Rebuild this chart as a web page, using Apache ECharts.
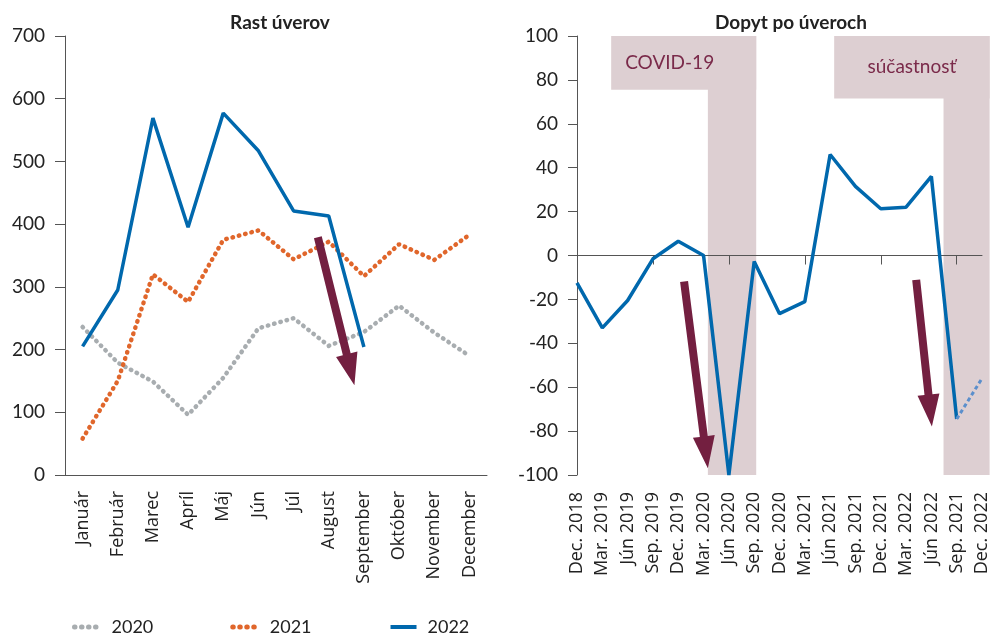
<!DOCTYPE html>
<html>
<head>
<meta charset="utf-8">
<script src="https://cdn.jsdelivr.net/npm/echarts@6/dist/echarts.min.js"></script>
<style>
html, body { margin: 0; padding: 0; background: #fff; }
#main { width: 991px; height: 633px; }
</style>
</head>
<body>
<div id="main"></div>
<script>
"use strict";

// Rast úverov (mesačne)
var months = ['Január', 'Február', 'Marec', 'Apríl', 'Máj', 'Jún', 'Júl', 'August', 'September', 'Október', 'November', 'December'];
var credit2020 = [236, 179, 149, 96, 155, 234, 250, 206, 228, 270, 227, 190];
var credit2021 = [58, 150, 320, 276, 375, 390, 344, 372, 317, 368, 343, 383];
var credit2022 = [205, 295, 569, 395, 577, 517, 421, 413, 204, null, null, null];

// Dopyt po úveroch (štvrťročne)
var quarters = ['Dec. 2018', 'Mar. 2019', 'Jún 2019', 'Sep. 2019', 'Dec. 2019', 'Mar. 2020', 'Jún 2020', 'Sep. 2020', 'Dec. 2020', 'Mar. 2021', 'Jún 2021', 'Sep. 2021', 'Dec. 2021', 'Mar. 2022', 'Jún 2022', 'Sep. 2021', 'Dec. 2022'];
var demand = [-12.5, -33, -20.5, -1.5, 6.5, 0, -100, -2.7, -26.5, -21, 46, 31.5, 21.3, 22, 36, -74.5, null];
var demandOutlook = [null, null, null, null, null, null, null, null, null, null, null, null, null, null, null, -74.5, -56];

// annotations, in data units: [x0, y0, x1, y1]
var leftArrows = [[6.69, 379, 7.73, 143]];
var rightArrows = [[4.23, -11.8, 5.17, -96.9], [13.4, -11.1, 14.02, -77.9]];
var bandStrips = [[5.17, 100, 7.08, -100], [14.48, 100, 16.3, -100]];
var bandBoxes = [[1.35, 100, 7.08, 75.5], [10.16, 100, 16.3, 71.5]];
var bandLabels = ['COVID-19', 'súčastnosť'];

var blue = '#0068ad';
var orange = '#e0662b';
var gray = '#a8adb0';
var maroon = '#731f40';
var bandColor = '#ddcfd2';
var axisColor = '#555';
var textColor = '#222';

var myChart = echarts.init(document.getElementById('main'));

function renderArrow(params, api) {
	var p0 = api.coord([api.value(0), api.value(1)]);
	var p1 = api.coord([api.value(2), api.value(3)]);
	var dx = p1[0] - p0[0], dy = p1[1] - p0[1];
	var len = Math.sqrt(dx * dx + dy * dy);
	var ux = dx / len, uy = dy / len;
	var nx = -uy, ny = ux;
	var shaft = 4, head = 11, headLen = 32;
	var bx = p1[0] - ux * headLen, by = p1[1] - uy * headLen;
	return {
		type: 'polygon',
		shape: {
			points: [
				[p0[0] + nx * shaft, p0[1] + ny * shaft],
				[bx + nx * shaft, by + ny * shaft],
				[bx + nx * head, by + ny * head],
				p1,
				[bx - nx * head, by - ny * head],
				[bx - nx * shaft, by - ny * shaft],
				[p0[0] - nx * shaft, p0[1] - ny * shaft]
			]
		},
		style: { fill: maroon }
	};
}

function renderStrip(params, api) {
	var a = api.coord([api.value(0), api.value(1)]);
	var b = api.coord([api.value(2), api.value(3)]);
	return {
		type: 'rect',
		shape: { x: a[0], y: a[1], width: b[0] - a[0], height: b[1] - a[1] },
		style: { fill: bandColor }
	};
}

function renderBox(params, api) {
	var a = api.coord([api.value(0), api.value(1)]);
	var b = api.coord([api.value(2), api.value(3)]);
	var first = params.dataIndex === 0;
	return {
		type: 'rect',
		shape: { x: a[0], y: a[1], width: b[0] - a[0], height: b[1] - a[1] },
		style: { fill: bandColor },
		textContent: {
			style: {
				text: bandLabels[params.dataIndex],
				fill: '#7a2a4a',
				font: '19px Lato'
			}
		},
		textConfig: { position: first ? 'insideLeft' : 'inside', distance: 14 }
	};
}

var dotted = [0.5, 6];

var option = {
	animation: false,
	textStyle: { fontFamily: 'Lato' },
	title: [
		{ text: 'Rast úverov', left: 275, top: 8, textAlign: 'center',
			textStyle: { fontFamily: 'Lato', fontWeight: 'bold', fontSize: 19, color: textColor } },
		{ text: 'Dopyt po úveroch', left: 786, top: 8, textAlign: 'center',
			textStyle: { fontFamily: 'Lato', fontWeight: 'bold', fontSize: 19, color: textColor } }
	],
	legend: {
		data: [
			{ name: '2020', lineStyle: { width: 5, type: [0.5, 6.5], cap: 'round' } },
			{ name: '2021', lineStyle: { width: 5, type: [0.5, 6.5], cap: 'round' } },
			{ name: '2022', lineStyle: { width: 4 } }
		],
		left: 67,
		top: 613,
		itemWidth: 26,
		itemHeight: 5,
		itemGap: 77,
		itemStyle: { opacity: 0 },
		textStyle: { fontFamily: 'Lato', fontSize: 18, color: textColor, padding: [0, 0, 0, 6] }
	},
	grid: [
		{ left: 65, right: 504, top: 36, bottom: 158 },
		{ left: 577, right: 7, top: 36, bottom: 158 }
	],
	xAxis: [
		{
			type: 'category', gridIndex: 0, data: months, boundaryGap: true,
			axisLine: { lineStyle: { color: axisColor } },
			axisTick: { length: 10, lineStyle: { color: axisColor } },
			axisLabel: { rotate: 90, margin: 16, fontFamily: 'Open Sans', fontSize: 18, color: textColor }
		},
		{ type: 'value', gridIndex: 0, min: -0.5, max: 11.5, show: false },
		{
			type: 'category', gridIndex: 1, data: quarters, boundaryGap: false, z: 4,
			axisLine: { onZero: true, lineStyle: { color: axisColor } },
			axisTick: { length: 9, lineStyle: { color: axisColor } },
			axisLabel: { show: false }
		},
		{
			type: 'category', gridIndex: 1, data: quarters, boundaryGap: false, position: 'bottom',
			axisLine: { show: false, onZero: false },
			axisTick: { show: false },
			axisLabel: { rotate: 90, margin: 17, fontFamily: 'Open Sans', fontSize: 18, color: textColor }
		},
		{ type: 'value', gridIndex: 1, min: 0, max: 16, show: false }
	],
	yAxis: [
		{
			type: 'value', gridIndex: 0, min: 0, max: 700, interval: 100,
			splitLine: { show: false },
			axisLine: { show: true, onZero: false, lineStyle: { color: axisColor } },
			axisTick: { show: true, length: 10, lineStyle: { color: axisColor } },
			axisLabel: { margin: 20, fontFamily: 'Lato', fontSize: 19, color: textColor }
		},
		{
			type: 'value', gridIndex: 1, min: -100, max: 100, interval: 20, z: 4,
			splitLine: { show: false },
			axisLine: { show: true, onZero: false, lineStyle: { color: axisColor } },
			axisTick: { show: true, length: 9, lineStyle: { color: axisColor } },
			axisLabel: { margin: 19, fontFamily: 'Lato', fontSize: 19, color: textColor }
		}
	],
	series: [
		{
			name: 'bands', type: 'custom', xAxisIndex: 4, yAxisIndex: 1, z: 1, silent: true,
			renderItem: renderStrip, data: bandStrips, encode: { x: [0, 2], y: [1, 3] }
		},
		{
			name: 'boxes', type: 'custom', xAxisIndex: 4, yAxisIndex: 1, z: 1, silent: true,
			renderItem: renderBox, data: bandBoxes, encode: { x: [0, 2], y: [1, 3] }
		},
		{
			name: '2020', type: 'line', xAxisIndex: 0, yAxisIndex: 0, data: credit2020,
			symbol: 'none', color: gray,
			lineStyle: { color: gray, width: 4.5, type: dotted, cap: 'round' }
		},
		{
			name: '2021', type: 'line', xAxisIndex: 0, yAxisIndex: 0, data: credit2021,
			symbol: 'none', color: orange,
			lineStyle: { color: orange, width: 4.5, type: dotted, cap: 'round' }
		},
		{
			name: '2022', type: 'line', xAxisIndex: 0, yAxisIndex: 0, data: credit2022,
			symbol: 'none', color: blue,
			lineStyle: { color: blue, width: 3.5 }
		},
		{
			name: 'Dopyt', type: 'line', xAxisIndex: 2, yAxisIndex: 1, data: demand, z: 5,
			symbol: 'none', color: blue,
			lineStyle: { color: blue, width: 3.5 }
		},
		{
			name: 'Výhľad', type: 'line', xAxisIndex: 2, yAxisIndex: 1, data: demandOutlook, z: 5,
			symbol: 'none', color: '#5b8fcc',
			lineStyle: { color: '#5b8fcc', width: 3, type: [4, 3] }
		},
		{
			name: 'arrowsLeft', type: 'custom', xAxisIndex: 1, yAxisIndex: 0, z: 6, silent: true,
			renderItem: renderArrow, data: leftArrows, encode: { x: [0, 2], y: [1, 3] }
		},
		{
			name: 'arrowsRight', type: 'custom', xAxisIndex: 4, yAxisIndex: 1, z: 6, silent: true,
			renderItem: renderArrow, data: rightArrows, encode: { x: [0, 2], y: [1, 3] }
		}
	]
};

myChart.setOption(option);
</script>
</body>
</html>
